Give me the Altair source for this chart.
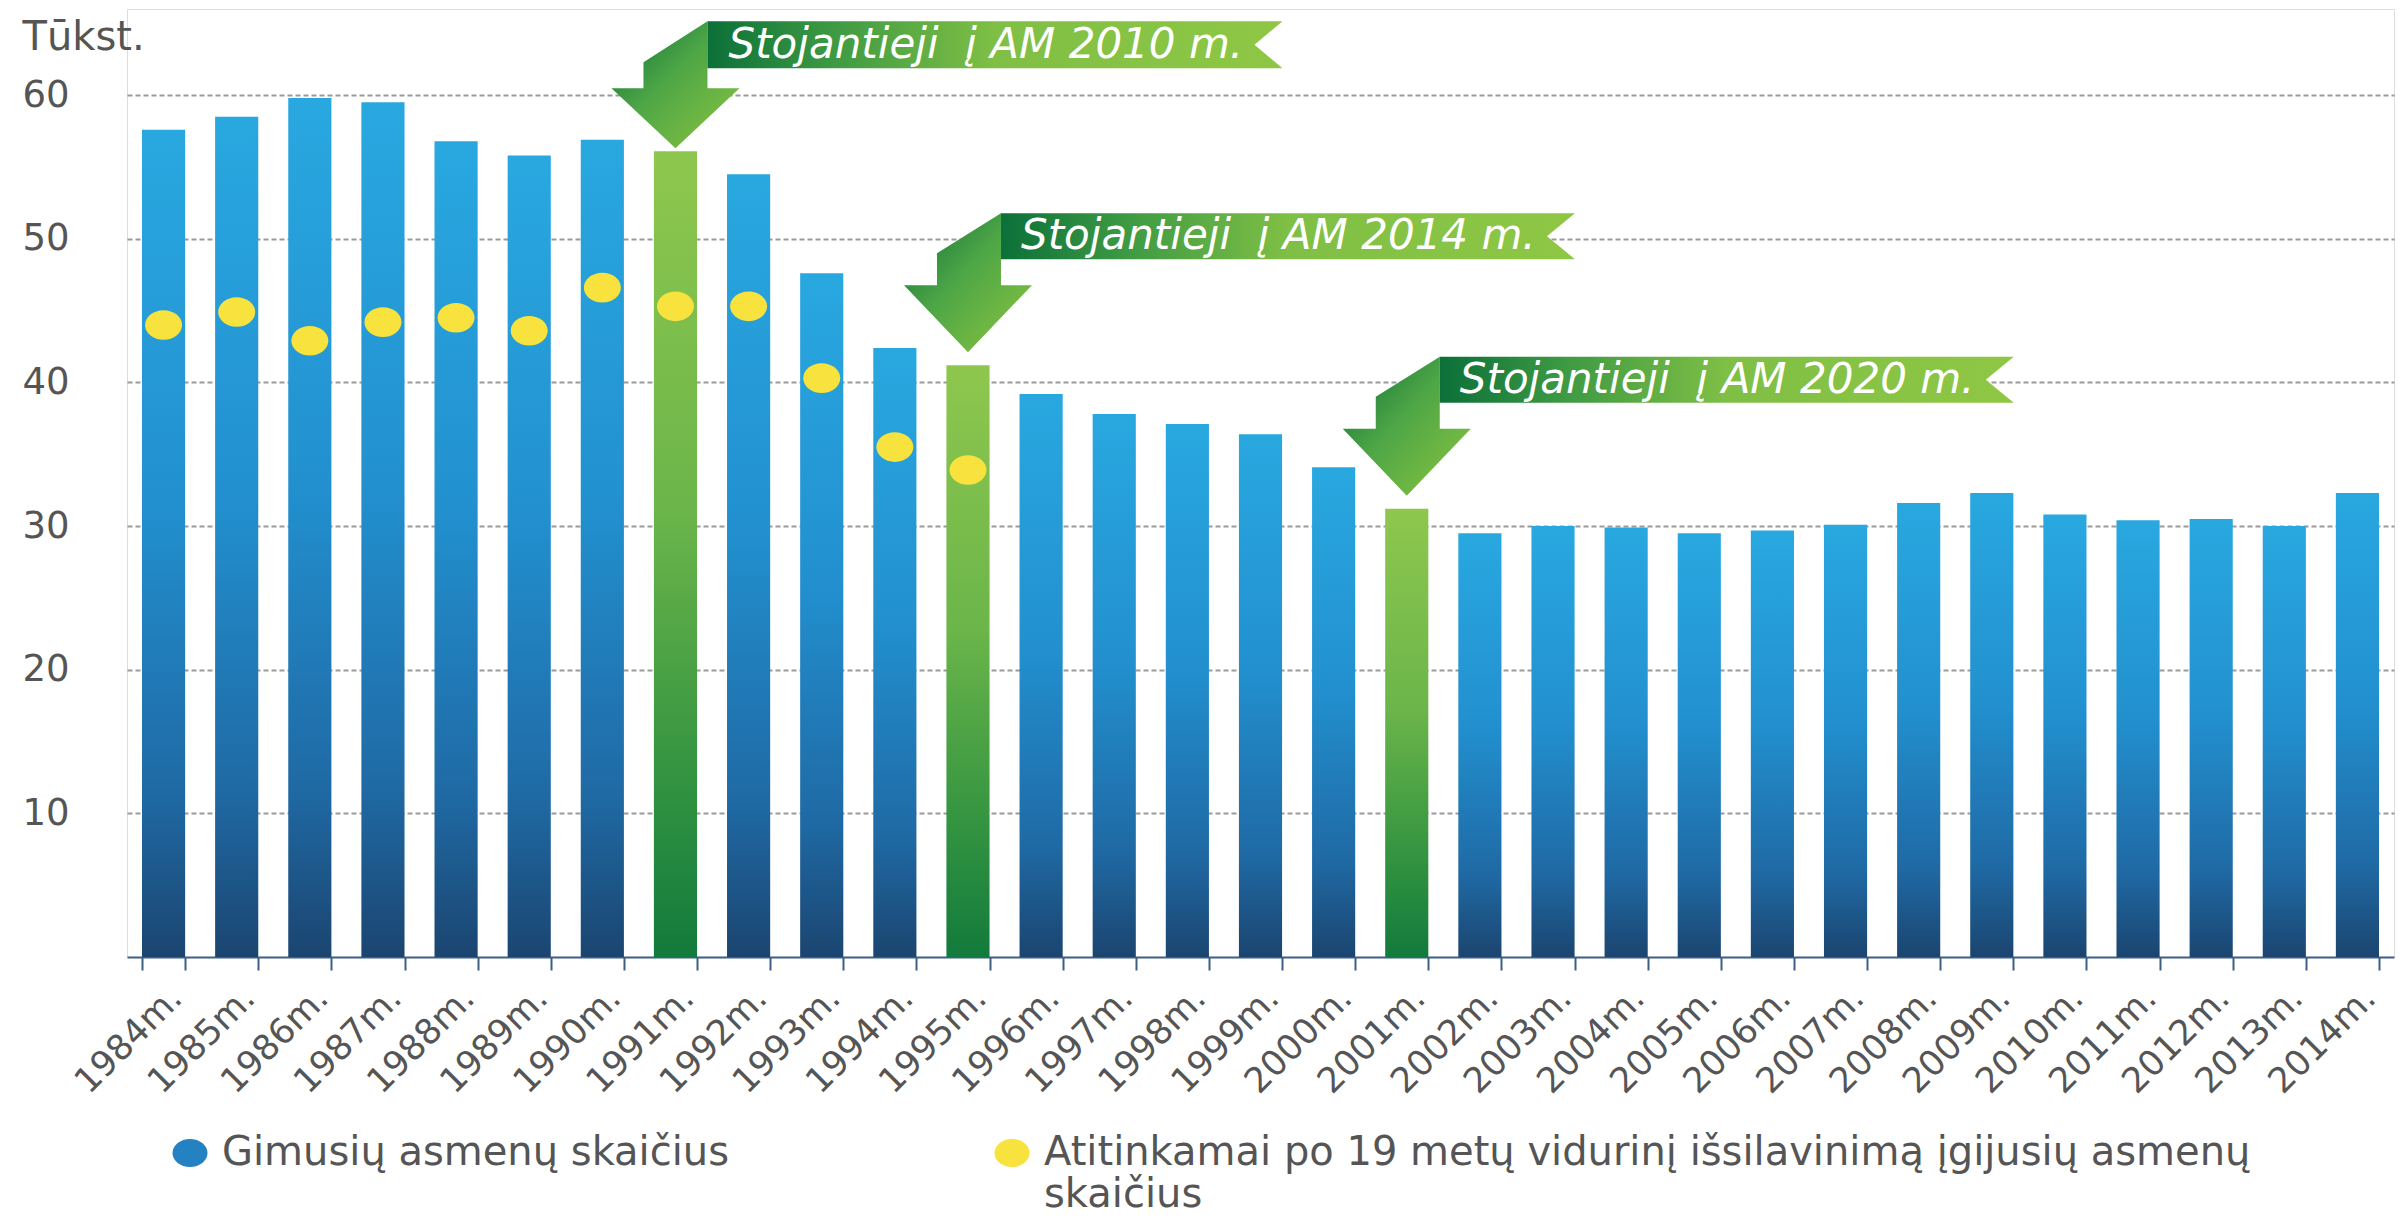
import altair as alt
import pandas as pd

# ---------------- data ----------------
years = ["1984m.", "1985m.", "1986m.", "1987m.", "1988m.", "1989m.", "1990m.",
         "1991m.", "1992m.", "1993m.", "1994m.", "1995m.", "1996m.", "1997m.",
         "1998m.", "1999m.", "2000m.", "2001m.", "2002m.", "2003m.", "2004m.",
         "2005m.", "2006m.", "2007m.", "2008m.", "2009m.", "2010m.", "2011m.",
         "2012m.", "2013m.", "2014m."]
births = [57.6, 58.5, 59.8, 59.5, 56.8, 55.8, 56.9, 56.1, 54.5, 47.6, 42.4,
          41.2, 39.2, 37.8, 37.1, 36.4, 34.1, 31.2, 29.5, 30.0, 29.9, 29.5,
          29.7, 30.1, 31.6, 32.3, 30.8, 30.4, 30.5, 30.0, 32.3]
graduate_years = ["1984m.", "1985m.", "1986m.", "1987m.", "1988m.", "1989m.",
                  "1990m.", "1991m.", "1992m.", "1993m.", "1994m.", "1995m."]
graduates = [44.0, 44.9, 42.9, 44.2, 44.5, 43.6, 46.6, 45.3, 45.3, 40.3, 35.5, 33.9]
highlight_years = ["1991m.", "1995m.", "2001m."]
banner_labels = ["Stojantieji  į AM 2010 m.", "Stojantieji  į AM 2014 m.",
                 "Stojantieji  į AM 2020 m."]
series_names = ["Gimusių asmenų skaičius",
                "Atitinkamai po 19 metų vidurinį išsilavinimą įgijusių asmenų skaičius"]
y_ticks = [10, 20, 30, 40, 50, 60]

# ---------------- tables ----------------
bars_df = pd.DataFrame({"year": years, "value": births})
blue_df = bars_df[~bars_df["year"].isin(highlight_years)]
green_df = bars_df[bars_df["year"].isin(highlight_years)]
hl_df = pd.DataFrame({
    "year": highlight_years,
    "value": [births[years.index(y)] for y in highlight_years],
    "banner": banner_labels,
})
dots_df = pd.DataFrame({"year": graduate_years, "value": graduates,
                        "series": series_names[1]})

# ---------------- styles ----------------
FONT = "DejaVu Sans"
TXT = "#555555"
AXIS_BLUE = "#3d5f86"


def grad(stops, x1=0, y1=0, x2=0, y2=1):
    return {"gradient": "linear", "x1": x1, "y1": y1, "x2": x2, "y2": y2,
            "stops": [{"offset": o, "color": c} for o, c in stops]}


blue_grad = grad([(0, "#29a8e0"), (0.45, "#2290cf"), (0.8, "#1f6aa5"), (1, "#1b4570")])
green_grad = grad([(0, "#8ec74e"), (0.45, "#6bb54a"), (0.8, "#2f9140"), (1, "#127a3c")])
arrow_grad = grad([(0, "#0d6e37"), (0.45, "#4ea646"), (1, "#8dc63f")], 0, 0, 1, 1)
ribbon_grad = grad([(0, "#0b7039"), (0.22, "#3e9a43"), (0.5, "#7fbf45"), (1, "#8fc744")],
                   0, 0, 1, 0)

# annotation shapes (pixel offsets from the top of the highlighted bar)
ARROW_COMPACT = "M 32 -130 L -32 -89 L -32 -63 L -64 -63 L 0 -3 L 64 -63 L 32 -63 Z"
RIBBON_COMPACT = "M 32 -130 L 607 -130 L 579 -106.5 L 607 -83 L 32 -83 Z"
ARROW_TALL = "M 33 -152 L -31 -112 L -31 -80 L -64 -80 L 0 -13 L 64 -80 L 33 -80 Z"
RIBBON_TALL = "M 33 -152 L 607 -152 L 579 -129 L 607 -106 L 33 -106 Z"
ELLIPSE = "M -1 0 A 1 0.8 0 1 0 1 0 A 1 0.8 0 1 0 -1 0 Z"

x_axis = alt.Axis(
    title=None, labelAngle=-45, labelAlign="right", labelBaseline="top",
    labelPadding=10, labelFont=FONT, labelFontSize=35, labelColor=TXT,
    labelOverlap=False, tickBand="extent", tickSize=13, tickWidth=2,
    tickColor=AXIS_BLUE, domainColor=AXIS_BLUE, domainWidth=2, grid=False,
)
y_axis = alt.Axis(
    values=y_ticks, title="Tūkst.", grid=True, gridDash=[5, 3],
    gridColor="#9a9a9a", gridWidth=2, domain=False, ticks=False, tickSize=0,
    labelAlign="left", labelBaseline="middle", labelPadding=105,
    labelFont=FONT, labelFontSize=37, labelColor=TXT,
    titleAngle=0, titleAlign="left", titleBaseline="top", titleX=-105,
    titleY=8, titleFont=FONT, titleFontSize=40, titleFontWeight="normal",
    titleColor=TXT,
)

x_enc = alt.X("year:N", sort=years,
              scale=alt.Scale(domain=years, paddingInner=0.41, paddingOuter=0.205),
              axis=x_axis)
y_enc = alt.Y("value:Q", scale=alt.Scale(domain=[0, 66], nice=False, zero=True),
              axis=y_axis)

blue_bars = alt.Chart(blue_df).mark_bar(color=blue_grad).encode(x=x_enc, y=y_enc)
green_bars = alt.Chart(green_df).mark_bar(color=green_grad).encode(x=x_enc, y=y_enc)

dots = alt.Chart(dots_df).mark_point(
    shape=ELLIPSE, size=1369, filled=True, opacity=1, strokeWidth=0
).encode(
    x=x_enc, y=y_enc,
    color=alt.Color(
        "series:N",
        scale=alt.Scale(domain=series_names, range=["#2582c2", "#f7e23e"]),
        legend=alt.Legend(
            title=None, orient="none", legendX=43, legendY=1124,
            direction="horizontal", padding=0, columnPadding=262,
            labelFont=FONT, labelFontSize=40, labelColor=TXT, labelLimit=2000,
            labelOffset=12, symbolType=ELLIPSE, symbolSize=1225,
            symbolStrokeWidth=0, symbolOpacity=1,
            labelExpr=("indexof(datum.label, 'Atitinkamai') == 0 ? "
                       "[substring(datum.label, 0, lastindexof(datum.label, ' ')), "
                       "substring(datum.label, lastindexof(datum.label, ' ') + 1)] "
                       ": [datum.label, '']"),
        ),
    ),
)


def annotation(years_sel, arrow_path, ribbon_path, text_dy):
    base = alt.Chart(hl_df).transform_filter(
        alt.FieldOneOfPredicate(field="year", oneOf=years_sel)
    )
    arrow = base.mark_point(
        shape=arrow_path, size=4, filled=True, fill=arrow_grad, opacity=1,
        strokeWidth=0
    ).encode(x=x_enc, y=y_enc)
    ribbon = base.mark_point(
        shape=ribbon_path, size=4, filled=True, fill=ribbon_grad, opacity=1,
        strokeWidth=0
    ).encode(x=x_enc, y=y_enc)
    text = base.transform_calculate(
        shown="replace(datum.banner, '  ', '\u00a0 ')"
    ).mark_text(
        align="left", baseline="middle", dx=53, dy=text_dy, font=FONT,
        fontStyle="italic", fontSize=42, color="white"
    ).encode(x=x_enc, y=y_enc, text="shown:N")
    return [arrow, ribbon, text]


ann = (annotation(highlight_years[:1], ARROW_COMPACT, RIBBON_COMPACT, -106)
       + annotation(highlight_years[1:], ARROW_TALL, RIBBON_TALL, -129))

chart = alt.layer(
    blue_bars, green_bars, dots, *ann
).properties(
    width=2267, height=948,
    autosize=alt.AutoSizeParams(type="none"),
    padding={"left": 119, "top": 1, "right": 4, "bottom": 259},
    background="white",
).configure_view(
    strokeWidth=0
).configure(
    style={"guide-label": {"lineHeight": 42}}
)

chart.save("out.html", embed_options={"renderer": "svg", "actions": False})
